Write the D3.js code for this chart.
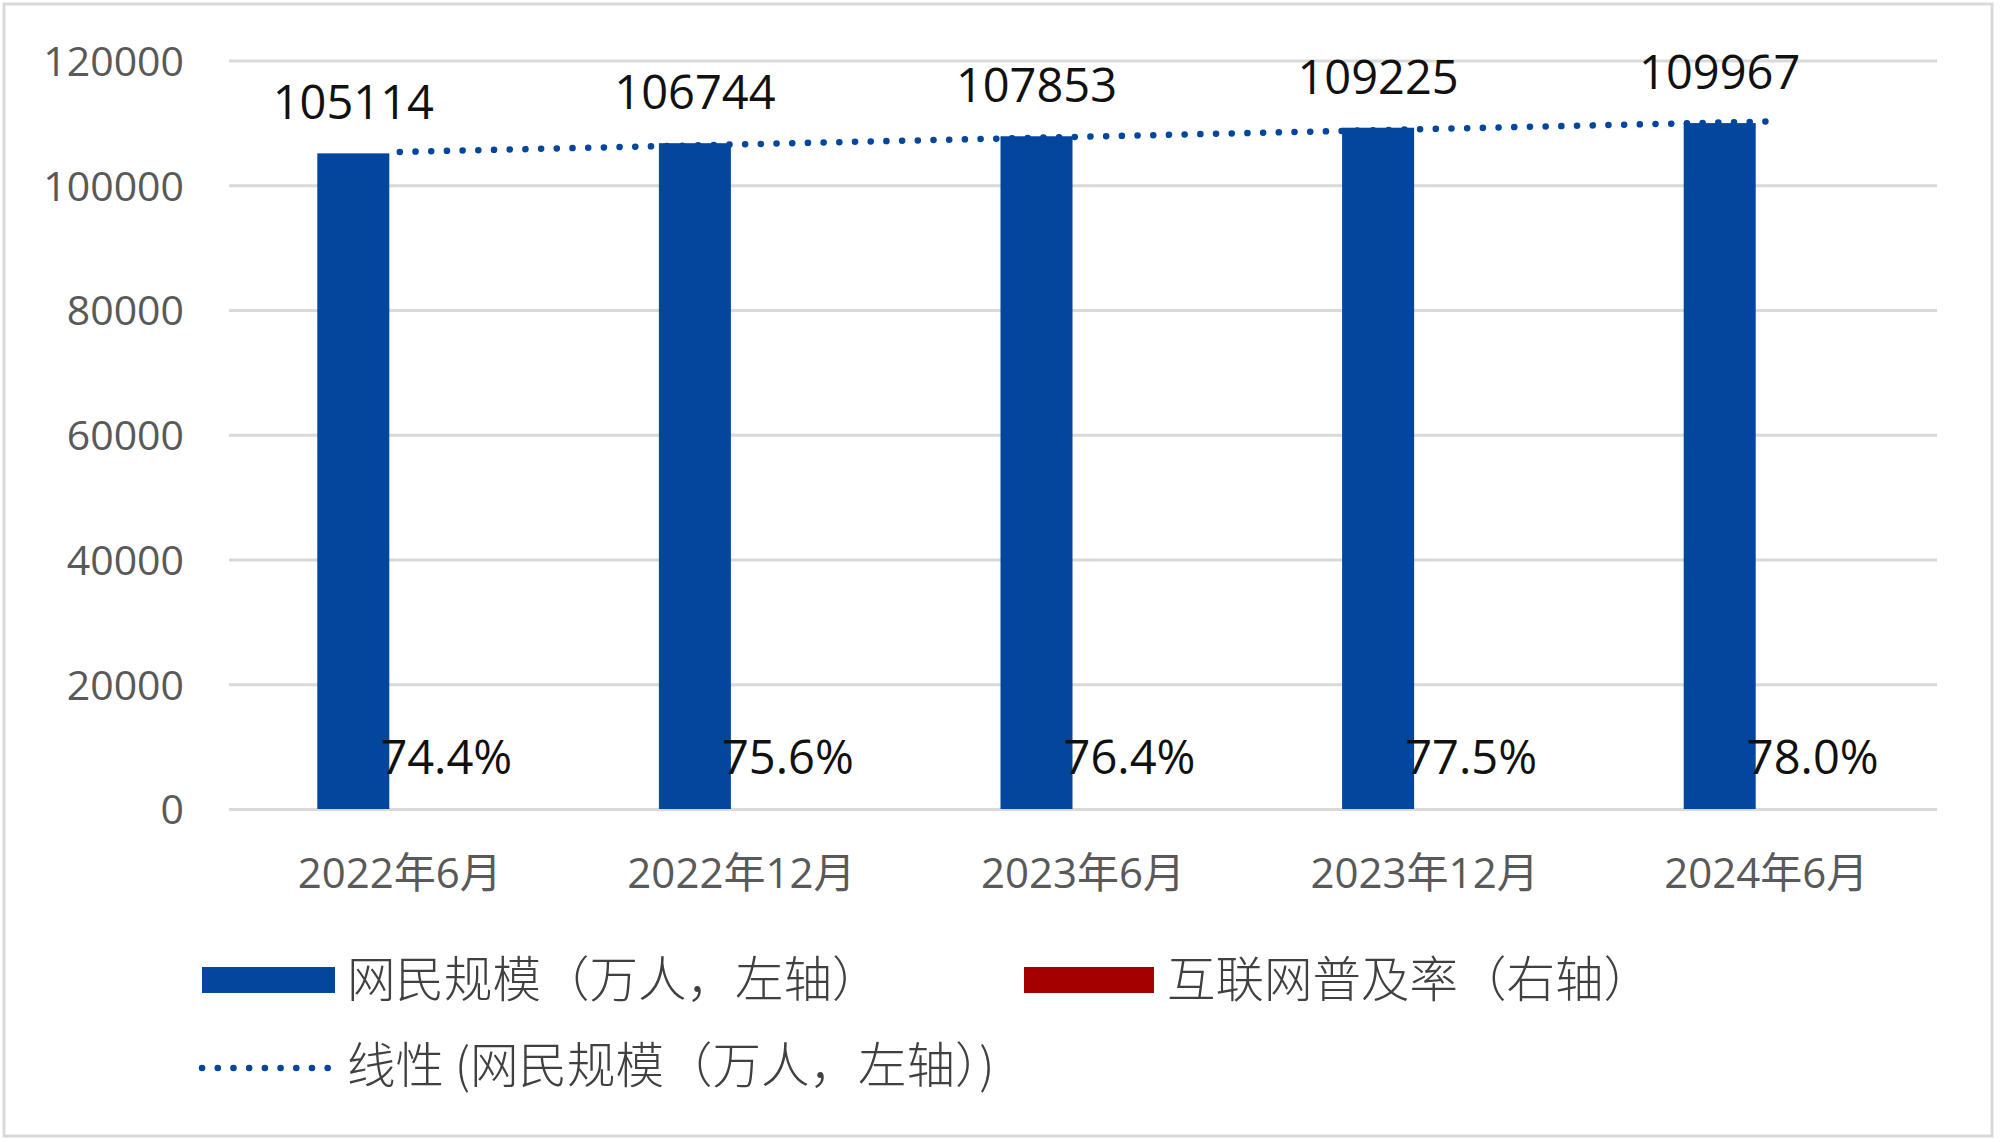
<!DOCTYPE html>
<html>
<head>
<meta charset="utf-8">
<script src="https://cdn.jsdelivr.net/npm/d3@7"></script>
<style>
  html, body { margin: 0; padding: 0; background: #fff; }
  svg { display: block; }
</style>
</head>
<body>
<svg id="chart" width="2000" height="1142"></svg>
<script>
// ---- data ----
const categories = ["2022年6月", "2022年12月", "2023年6月", "2023年12月", "2024年6月"];
const netizens = [105114, 106744, 107853, 109225, 109967];          // 网民规模（万人，左轴）
const penetration = [74.4, 75.6, 76.4, 77.5, 78.0];                 // 互联网普及率（右轴）
const yTicks = [0, 20000, 40000, 60000, 80000, 100000, 120000];
const legendLabels = ["网民规模（万人，左轴）", "互联网普及率（右轴）", "线性 (网民规模（万人，左轴）)"];

// ---- layout ----
const W = 2000, H = 1142;
const plot = { left: 229, right: 1937, top: 60.5, bottom: 809 };
const BLUE = "#03469E", RED = "#A50000";
const numFont = "'Open Sans', 'Noto Sans', sans-serif";
const cjkFont = "'Open Sans', 'Noto Sans CJK SC', sans-serif";

const svg = d3.select("#chart");

// outer border
svg.append("rect").attr("x", 4).attr("y", 4).attr("width", W - 8 - 4).attr("height", H - 8 - 2)
  .attr("fill", "#fff").attr("stroke", "#D9D9D9").attr("stroke-width", 3);

const x = d3.scaleBand().domain(categories).range([plot.left, plot.right]).paddingInner(0).paddingOuter(0);
const y = d3.scaleLinear().domain([0, 120000]).range([plot.bottom, plot.top]);
// secondary (hidden) axis for the rate series: its bars are flat at the baseline
const yR = d3.scaleLinear().domain([0, 1e9]).range([plot.bottom, plot.top]);

const barW = 72, barOffset = 46.5;

// gridlines via axis
const gridAxis = d3.axisLeft(y).tickValues(yTicks).tickSize(-(plot.right - plot.left)).tickFormat("");
const gg = svg.append("g").attr("transform", `translate(${plot.left},0)`).call(gridAxis);
gg.select(".domain").remove();
gg.selectAll(".tick line").attr("stroke", "#D9D9D9").attr("stroke-width", 3);

// y tick labels
const yAxis = d3.axisLeft(y).tickValues(yTicks).tickSize(0).tickPadding(0).tickFormat(d => String(d));
const ya = svg.append("g").attr("transform", `translate(184,0)`).call(yAxis);
ya.select(".domain").remove();
ya.selectAll("text").attr("font-family", numFont).attr("font-size", 41).attr("fill", "#595959").attr("dy", "0.36em");

// x axis labels
const xAxis = d3.axisBottom(x).tickSize(0).tickPadding(0);
const xa = svg.append("g").attr("transform", `translate(0,${plot.bottom})`).call(xAxis);
xa.select(".domain").remove();
xa.selectAll("text").attr("font-family", cjkFont).attr("font-size", 42).attr("fill", "#595959")
  .attr("dy", null).attr("y", 79);

// blue bars
const cx = c => x(c) + x.bandwidth() / 2;
svg.append("g").selectAll("rect").data(netizens).join("rect")
  .attr("x", (d, i) => cx(categories[i]) - barOffset - barW / 2)
  .attr("y", d => y(d))
  .attr("width", barW)
  .attr("height", d => y(0) - y(d))
  .attr("fill", BLUE);

// red bars (rate on hidden secondary axis -> zero visible height)
svg.append("g").selectAll("rect").data(penetration).join("rect")
  .attr("x", (d, i) => cx(categories[i]) + barOffset - barW / 2)
  .attr("y", d => yR(d))
  .attr("width", barW)
  .attr("height", d => Math.floor(yR(0) - yR(d)))
  .attr("fill", RED);

// trendline (linear regression of netizens)
const n = netizens.length;
const mx = d3.mean(d3.range(n)), my = d3.mean(netizens);
const slope = d3.sum(netizens, (v, i) => (i - mx) * (v - my)) / d3.sum(d3.range(n), i => (i - mx) ** 2);
const icpt = my - slope * mx;
const trend = [0, n - 1].map(i => [cx(categories[i]), y(icpt + slope * i)]);
svg.append("path").attr("d", d3.line()(trend))
  .attr("fill", "none").attr("stroke", BLUE).attr("stroke-width", 6.5)
  .attr("stroke-linecap", "round").attr("stroke-dasharray", "0.1 15.6");

// value labels
svg.append("g").selectAll("text").data(netizens).join("text")
  .attr("x", (d, i) => cx(categories[i]) - barOffset)
  .attr("y", d => y(d) - 34)
  .attr("text-anchor", "middle").attr("font-family", numFont).attr("font-size", 47).attr("fill", "#111")
  .text(d => d);

svg.append("g").selectAll("text").data(penetration).join("text")
  .attr("x", (d, i) => cx(categories[i]) + barOffset)
  .attr("y", d => yR(d) - 35)
  .attr("text-anchor", "middle").attr("font-family", numFont).attr("font-size", 47).attr("fill", "#111")
  .text(d => d.toFixed(1) + "%");

// legend
const lg = svg.append("g").attr("font-family", "'Noto Sans CJK SC', sans-serif").attr("font-size", 48.5).attr("fill", "#404040").attr("font-weight", 300);
lg.append("rect").attr("x", 202).attr("y", 967).attr("width", 133).attr("height", 26).attr("fill", BLUE);
lg.append("text").attr("x", 347).attr("y", 980).attr("dy", "0.36em").text(legendLabels[0]);
lg.append("rect").attr("x", 1024).attr("y", 967).attr("width", 130).attr("height", 26).attr("fill", RED);
lg.append("text").attr("x", 1167).attr("y", 980).attr("dy", "0.36em").text(legendLabels[1]);
lg.append("path").attr("d", "M202,1068H328").attr("stroke", BLUE).attr("stroke-width", 6.5)
  .attr("stroke-linecap", "round").attr("stroke-dasharray", "0.1 15.6").attr("fill", "none");
lg.append("text").attr("x", 347).attr("y", 1066).attr("dy", "0.36em").text(legendLabels[2]);
</script>
</body>
</html>
